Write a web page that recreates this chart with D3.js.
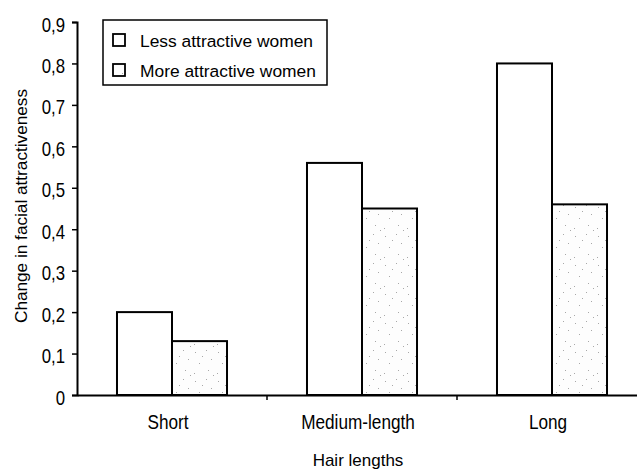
<!DOCTYPE html>
<html>
<head>
<meta charset="utf-8">
<script src="https://cdn.jsdelivr.net/npm/d3@7"></script>
<style>
  html, body { margin: 0; padding: 0; background: #fff; }
  text { font-family: "Liberation Sans", Arial, sans-serif; fill: #000; }
</style>
</head>
<body>
<svg id="chart" width="637" height="473"></svg>
<script>
const categories = ["Short", "Medium-length", "Long"];
const seriesNames = ["Less attractive women", "More attractive women"];
const lessAttractive = [0.20, 0.56, 0.80];
const moreAttractive = [0.13, 0.45, 0.46];
const yTicks = [0, 0.1, 0.2, 0.3, 0.4, 0.5, 0.6, 0.7, 0.8, 0.9];
const xTitle = "Hair lengths";
const yTitle = "Change in facial attractiveness";

const svg = d3.select("#chart");
const defs = svg.append("defs");
const pat = defs.append("pattern").attr("id", "stipple")
  .attr("patternUnits", "userSpaceOnUse").attr("width", 23).attr("height", 29);
pat.append("rect").attr("width", 23).attr("height", 29).attr("fill", "#fdfdfd");
[[3,4],[14,2],[19,11],[7,15],[16,22],[2,25],[10,8],[21,27]].forEach(([px,py]) =>
  pat.append("rect").attr("x", px).attr("y", py).attr("width", 1).attr("height", 1).attr("fill", "#a8a8a8"));

const x0 = 77, x1 = 647, yTop = 22, yBot = 395;
const x = d3.scaleBand().domain(categories).range([x0, x1]).paddingInner(0).paddingOuter(0);
const y = d3.scaleLinear().domain([0, 0.9]).range([yBot, yTop]);
const xs = d3.scaleBand().domain([0, 1]).range([0, x.bandwidth()]).paddingInner(0).paddingOuter(0.727);

const rows = categories.map((c, i) => ({ c, vals: [lessAttractive[i], moreAttractive[i]] }));

const g = svg.append("g");
const groups = g.selectAll("g.cat").data(rows).join("g")
  .attr("transform", d => `translate(${x(d.c)},0)`);
groups.selectAll("rect").data(d => d.vals.map((v, k) => ({ v, k }))).join("rect")
  .attr("x", d => xs(d.k))
  .attr("width", xs.bandwidth())
  .attr("y", d => y(d.v))
  .attr("height", d => y(0) - y(d.v))
  .attr("fill", d => d.k === 0 ? "#ffffff" : "url(#stipple)")
  .attr("stroke", "#000").attr("stroke-width", 2);

// Y axis
const yAxis = d3.axisLeft(y).tickValues(yTicks).tickSize(5).tickPadding(8)
  .tickFormat(d => d === 0 ? "0" : d3.format(".1f")(d).replace(".", ","));
const ya = svg.append("g").attr("transform", `translate(${x0},0)`).call(yAxis);
ya.select(".domain").attr("stroke", "#000").attr("stroke-width", 2);
ya.selectAll(".tick line").attr("stroke", "#000").attr("stroke-width", 1.5);
ya.selectAll(".tick text")
  .attr("x", 0).attr("dy", null).attr("y", 0)
  .attr("transform", "translate(-12,9) scale(0.84,1)")
  .attr("font-size", 20).attr("text-anchor", "end")
  .style("font-family", "Liberation Sans, Arial, sans-serif").attr("fill", "#000");

// X axis
const xAxis = d3.axisBottom(x).tickSize(0).tickPadding(0);
const xa = svg.append("g").attr("transform", `translate(0,${yBot})`).call(xAxis);
xa.select(".domain").attr("stroke", "#000").attr("stroke-width", 2);
xa.selectAll(".tick text")
  .attr("y", 0).attr("dy", null)
  .attr("transform", "translate(-4,34) scale(0.86,1)")
  .attr("font-size", 20)
  .style("font-family", "Liberation Sans, Arial, sans-serif").attr("fill", "#000");
// boundary ticks between categories
xa.selectAll("line.bt").data(categories.slice(1)).join("line").attr("class", "bt")
  .attr("x1", d => x(d)).attr("x2", d => x(d)).attr("y1", 0).attr("y2", 5)
  .attr("stroke", "#000").attr("stroke-width", 1.5);

// Titles
svg.append("text").attr("x", 358).attr("y", 466).attr("text-anchor", "middle")
  .attr("font-size", 17).text(xTitle);
svg.append("text").attr("transform", "translate(27,206) rotate(-90)").attr("text-anchor", "middle")
  .attr("font-size", 17.2).text(yTitle);

// Legend
const lg = svg.append("g");
lg.append("rect").attr("x", 103).attr("y", 20).attr("width", 224).attr("height", 65)
  .attr("fill", "#fff").attr("stroke", "#000").attr("stroke-width", 1.5);
seriesNames.forEach((name, i) => {
  const yy = 34 + i * 30;
  lg.append("rect").attr("x", 113).attr("y", yy).attr("width", 12).attr("height", 12)
    .attr("fill", i === 0 ? "#fff" : "url(#stipple)").attr("stroke", "#000").attr("stroke-width", 1.8);
  lg.append("text").attr("x", 140).attr("y", yy + 13).attr("font-size", 17.4).text(name);
});
</script>
</body>
</html>
